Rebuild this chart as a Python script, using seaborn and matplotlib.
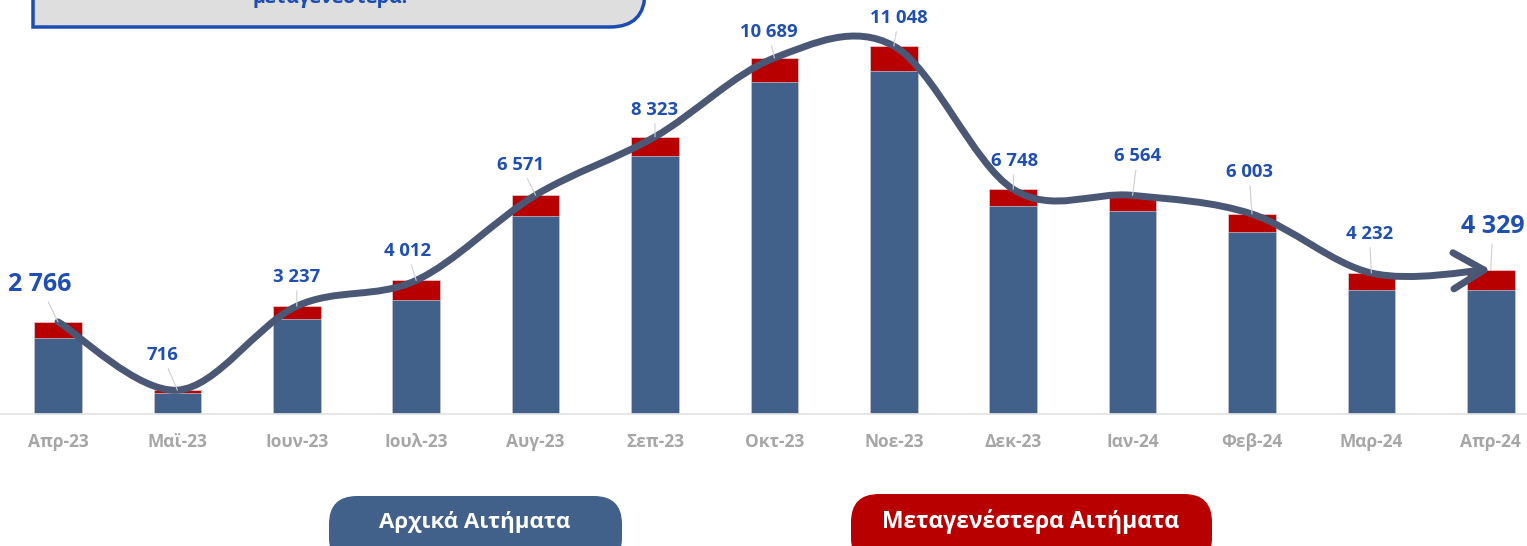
import numpy as np
import matplotlib
matplotlib.use("Agg")
import matplotlib.pyplot as plt
import seaborn as sns
from matplotlib.path import Path
from matplotlib.patches import PathPatch, FancyBboxPatch, FancyArrowPatch

# ---- data ----
months = ["Απρ-23", "Μαϊ-23", "Ιουν-23", "Ιουλ-23", "Αυγ-23", "Σεπ-23", "Οκτ-23",
          "Νοε-23", "Δεκ-23", "Ιαν-24", "Φεβ-24", "Μαρ-24", "Απρ-24"]
totals = [2766, 716, 3237, 4012, 6571, 8323, 10689, 11048, 6748, 6564, 6003, 4232, 4329]
initial = [2280, 645, 2850, 3420, 5945, 7750, 9970, 10300, 6245, 6100, 5470, 3725, 3725]

# label offsets from the point, in pixels (dx right, dy up)
label_offsets = [(-18, 37), (-15, 35), (0, 29), (-9, 29), (-15, 30), (0, 27), (-6, 26),
                 (5, 28), (1, 28), (5, 39), (-3, 42), (-2, 39), (2, 43)]
big_labels = {0, 12}

BLUE = "#41608a"
RED = "#b80000"
LINE = "#4a5875"
LABEL_BLUE = "#1f4fb3"
GREY = "#a6a6a6"

sns.set_theme(style="white")
plt.rcParams['font.family'] = ['Open Sans', 'DejaVu Sans']

W, H = 1527, 546
fig = plt.figure(figsize=(W / 100, H / 100), dpi=100)
base_px = 414
ax = fig.add_axes([0, (H - base_px) / H, 1, base_px / H])

# stacked bars: total in red, initial requests in blue on top of it
sns.barplot(x=months, y=totals, color=RED, saturation=1, width=0.4, ax=ax, zorder=2)
sns.barplot(x=months, y=initial, color=BLUE, saturation=1, width=0.4, ax=ax, zorder=2)
for p in ax.patches:
    p.set_edgecolor("#dfe5ee")
    p.set_linewidth(0.4)

step = 119.4
ax.set_xlabel("")
ax.set_ylabel("")
ax.set_yticks([])
for s in ["top", "right", "left"]:
    ax.spines[s].set_visible(False)
ax.spines["bottom"].set_color("#e3e3e3")
ax.set_xticks(range(len(months)))
ax.set_xticklabels(months, color=GREY, fontweight="bold", fontsize=12.5)
ax.tick_params(axis="x", which="major", length=0, pad=14)
ax.set_xticks(np.arange(-0.5, len(months), 1), minor=True)
ax.tick_params(axis="x", which="minor", length=6, color="#e3e3e3", width=1)
ax.set_xlim(-58 / step, (W - 58) / step)
ax.set_ylim(0, 12429)

# smooth (bezier) line through totals with arrow at the end
n = len(totals)
pts = np.column_stack([np.arange(n), totals]).astype(float)
verts = [pts[0]]
codes = [Path.MOVETO]
for i in range(n - 1):
    p_prev = pts[max(i - 1, 0)]
    p_next2 = pts[min(i + 2, n - 1)]
    c1 = pts[i] + (pts[i + 1] - p_prev) / 6
    c2 = pts[i + 1] - (p_next2 - pts[i]) / 6
    verts += [c1, c2, pts[i + 1]]
    codes += [Path.CURVE4] * 3
curve = Path(verts, codes)
arrow = FancyArrowPatch(path=curve, arrowstyle="->,head_length=1.1,head_width=0.65",
                        mutation_scale=20, color=LINE, lw=5, transform=ax.transData,
                        zorder=4, capstyle="round", joinstyle="round")
ax.add_patch(arrow)

# value labels with leader lines
for i, (val, (dx, dy)) in enumerate(zip(totals, label_offsets)):
    label = f"{val:,}".replace(",", " ")
    size = 18 if i in big_labels else 13.3
    ax.annotate(label, xy=(i, val), xytext=(dx * 0.72, dy * 0.72), textcoords="offset points",
                ha="center", va="center", fontsize=size, fontweight="bold", color=LABEL_BLUE,
                zorder=6, annotation_clip=False,
                arrowprops=dict(arrowstyle="-", color="#cfcfcf", lw=0.8, shrinkA=1, shrinkB=0))

# overlay in pixel coordinates for the boxes
ov = fig.add_axes([0, 0, 1, 1], zorder=10)
ov.set_xlim(0, W)
ov.set_ylim(H, 0)
ov.axis("off")
ov.patch.set_alpha(0)

# cut-off note box at the top left
bx0, bx1, by = 33, 645, 27
r = 35
box_path = Path([(bx0, -20), (bx0, by), (bx1 - r, by), (bx1, by), (bx1, by - r), (bx1, -20), (bx0, -20)],
                [Path.MOVETO, Path.LINETO, Path.LINETO, Path.CURVE3, Path.CURVE3, Path.LINETO, Path.CLOSEPOLY])
ov.add_patch(PathPatch(box_path, facecolor="#dedede", edgecolor="#1a4cb3", lw=2.5))
ov.text(330, 3, "μεταγενέστερα.", ha="center", va="baseline", fontsize=14,
        fontweight="bold", color="#1a4cb3")

# legend pills
ov.add_patch(FancyBboxPatch((329, 496), 293, 70, boxstyle="round,pad=0,rounding_size=28",
                            facecolor=BLUE, edgecolor="none"))
ov.text(475, 522, "Αρχικά Αιτήματα", ha="center", va="center", fontsize=16,
        fontweight="bold", color="white")
ov.add_patch(FancyBboxPatch((851, 494), 361, 72, boxstyle="round,pad=0,rounding_size=28",
                            facecolor=RED, edgecolor="none"))
ov.text(1031, 522, "Μεταγενέστερα Αιτήματα", ha="center", va="center", fontsize=16.5,
        fontweight="bold", color="white")

fig.savefig("out.png", dpi=100)
